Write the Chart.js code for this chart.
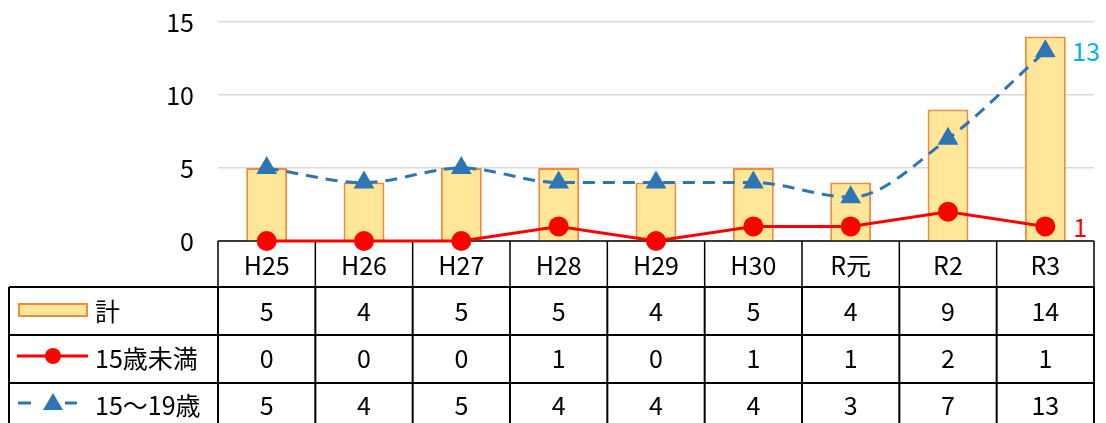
<!DOCTYPE html>
<html>
<head>
<meta charset="utf-8">
<script src="https://cdn.jsdelivr.net/npm/chart.js@4.4.0/dist/chart.umd.min.js"></script>
<style>
html,body{margin:0;padding:0;background:#fff;overflow:hidden;}
#wrap{width:1106px;height:423px;position:relative;overflow:hidden;}
#c{position:absolute;left:0;top:-17px;}
</style>
</head>
<body>
<div id="wrap"><canvas id="c" width="1106" height="440"></canvas></div>
<script>
const categories = ['H25','H26','H27','H28','H29','H30','R元','R2','R3'];
const totalValues = [5,4,5,5,4,5,4,9,14];
const under15Values = [0,0,0,1,0,1,1,2,1];
const age15to19Values = [5,4,5,4,4,4,3,7,13];
const seriesNames = ['計','15歳未満','15～19歳'];
const yTicks = [0,5,10,15];

const FONT = '"Noto Sans CJK JP", "Noto Sans", sans-serif';
const FS = 25;
const SHIFT = 17;
const BAR_FILL = '#FFE699';
const BAR_BORDER = '#F08A3C';
const RED = '#FF0000';
const BLUE = '#2E75B6';
const CYAN = '#00B0F0';

const tablePlugin = {
  id: 'tablePlugin',
  beforeDatasetsDraw(chart) {
    const ctx = chart.ctx;
    const area = chart.chartArea;
    const x = chart.scales.x;
    const n = categories.length;
    const colW = (area.right - area.left) / n;
    const yTop = area.bottom;
    const rows = [yTop, 287 + SHIFT, 335 + SHIFT, 383 + SHIFT, 423 + SHIFT];
    const leftX = 9;
    ctx.save();
    ctx.strokeStyle = '#000';
    ctx.lineWidth = 1.5;
    ctx.beginPath();
    ctx.moveTo(area.left, rows[0]); ctx.lineTo(area.right, rows[0]);
    for (let i = 0; i <= n; i++) {
      const xx = area.left + i * colW;
      ctx.moveTo(xx, rows[0]); ctx.lineTo(xx, rows[1]);
    }
    ctx.stroke();
    ctx.lineWidth = 2;
    ctx.beginPath();
    for (let r = 1; r <= 3; r++) {
      ctx.moveTo(leftX, rows[r]); ctx.lineTo(area.right, rows[r]);
    }
    ctx.moveTo(leftX, rows[1]); ctx.lineTo(leftX, rows[4]);
    for (let i = 0; i <= n; i++) {
      const xx = area.left + i * colW;
      ctx.moveTo(xx, rows[1]); ctx.lineTo(xx, rows[4]);
    }
    ctx.stroke();
    ctx.fillStyle = '#000';
    ctx.font = FS + 'px ' + FONT;
    ctx.textAlign = 'center';
    ctx.textBaseline = 'middle';
    const series = [totalValues, under15Values, age15to19Values];
    const vy = [311 + SHIFT, 358 + SHIFT, 405 + SHIFT];
    for (let i = 0; i < n; i++) {
      const cx = x.getPixelForValue(i);
      ctx.fillText(categories[i], cx, 265 + SHIFT);
      for (let s = 0; s < 3; s++) ctx.fillText(String(series[s][i]), cx, vy[s]);
    }
    ctx.textAlign = 'left';
    for (let s = 0; s < 3; s++) ctx.fillText(seriesNames[s], 95, vy[s]);
    ctx.fillStyle = BAR_FILL; ctx.strokeStyle = BAR_BORDER; ctx.lineWidth = 2;
    ctx.fillRect(19, vy[0] - 7, 68, 12); ctx.strokeRect(19, vy[0] - 7, 68, 12);
    ctx.strokeStyle = RED; ctx.lineWidth = 3;
    ctx.beginPath(); ctx.moveTo(17, vy[1] - 2); ctx.lineTo(88, vy[1] - 2); ctx.stroke();
    ctx.fillStyle = RED; ctx.beginPath(); ctx.arc(53, vy[1] - 2, 8, 0, Math.PI * 2); ctx.fill();
    ctx.strokeStyle = BLUE; ctx.lineWidth = 3;
    ctx.beginPath();
    ctx.moveTo(18, vy[2] - 2); ctx.lineTo(31, vy[2] - 2);
    ctx.moveTo(65, vy[2] - 2); ctx.lineTo(77, vy[2] - 2);
    ctx.stroke();
    ctx.fillStyle = BLUE; ctx.beginPath();
    ctx.moveTo(53, vy[2] - 12); ctx.lineTo(63, vy[2] + 5); ctx.lineTo(43, vy[2] + 5); ctx.closePath(); ctx.fill();
    ctx.restore();
  },
  afterDatasetsDraw(chart) {
    const ctx = chart.ctx;
    const x = chart.scales.x, y = chart.scales.y;
    const last = categories.length - 1;
    ctx.save();
    ctx.font = FS + 'px ' + FONT;
    ctx.textAlign = 'left';
    ctx.textBaseline = 'middle';
    ctx.fillStyle = CYAN;
    ctx.fillText(String(age15to19Values[last]), x.getPixelForValue(last) + 27, y.getPixelForValue(age15to19Values[last]));
    ctx.fillStyle = RED;
    ctx.fillText(String(under15Values[last]), x.getPixelForValue(last) + 28, y.getPixelForValue(under15Values[last]) + 1);
    ctx.restore();
  }
};

new Chart(document.getElementById('c'), {
  data: {
    labels: categories,
    datasets: [
      {
        type: 'line', label: seriesNames[2], data: age15to19Values, order: 1,
        borderColor: BLUE, backgroundColor: BLUE, borderWidth: 3, borderDash: [12, 8],
        pointStyle: 'triangle', pointRadius: 12, pointBorderWidth: 0, pointBackgroundColor: BLUE,
        tension: 0.3, cubicInterpolationMode: 'monotone', clip: false
      },
      {
        type: 'line', label: seriesNames[1], data: under15Values, order: 2,
        borderColor: RED, backgroundColor: RED, borderWidth: 3,
        pointStyle: 'circle', pointRadius: 10, pointBorderWidth: 0, pointBackgroundColor: RED,
        tension: 0, clip: false
      },
      {
        type: 'bar', label: seriesNames[0], data: totalValues, order: 3,
        backgroundColor: BAR_FILL, borderColor: BAR_BORDER, borderWidth: 2,
        barPercentage: 0.42, categoryPercentage: 1.0
      }
    ]
  },
  options: {
    responsive: false,
    animation: false,
    events: [],
    layout: { padding: { left: 0, right: 9, top: 0, bottom: 182 } },
    plugins: { legend: { display: false }, tooltip: { enabled: false } },
    scales: {
      x: { display: false, offset: true, grid: { display: false } },
      y: {
        min: 0, max: 15,
        afterFit(scale) { scale.width = 218; },
        afterBuildTicks(scale) { scale.ticks = yTicks.map(v => ({ value: v })); },
        ticks: { color: '#000', font: { family: FONT, size: FS }, padding: 24 },
        grid: { color: '#D9D9D9', lineWidth: 1.5, drawTicks: false },
        border: { display: false }
      }
    }
  },
  plugins: [tablePlugin]
});
</script>
</body>
</html>
